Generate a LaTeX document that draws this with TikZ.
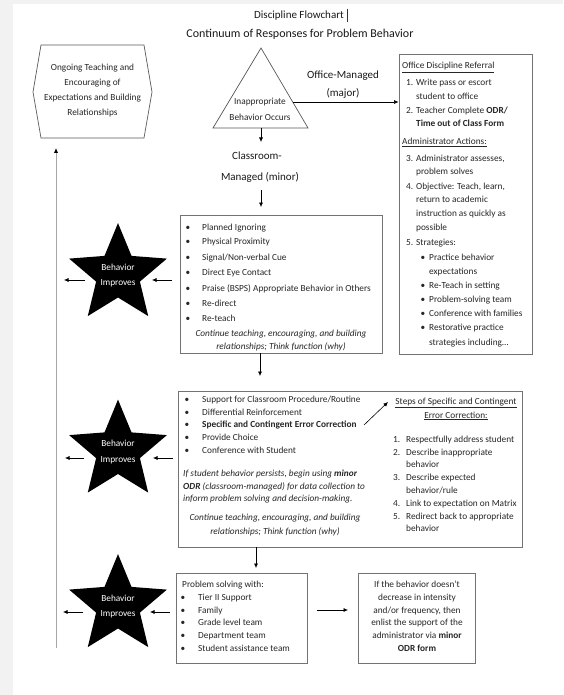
\documentclass[tikz,border=0pt]{standalone}
\usepackage{fontspec}
\setmainfont{Carlito}
\usetikzlibrary{arrows.meta,calc}
\newcommand\fsBody{\fontsize{9.3}{11}\selectfont}
\newcommand\drawstar[1]{\fill[black] ($(#1)+(-90:51.4)$) \foreach \k in {1,...,9}{ -- ($(#1)+({-90+36*\k}:{ifthenelse(isodd(\k),23,51.4)})$)} -- cycle;}
\begin{document}
\begin{tikzpicture}[x=1pt,y=-1pt,
  txt/.style={inner sep=0pt,anchor=base west,font=\fsBody,text=black!85},
  ctxt/.style={txt,anchor=base},
  bul/.style={inner sep=0pt,anchor=base,font=\fsBody,text=black!85},
  bigtxt/.style={inner sep=0pt,anchor=base,font=\fontsize{11}{13}\selectfont,text=black!90},
  boxline/.style={draw=black!55,line width=0.8pt,inner sep=0pt},
  shapeline/.style={draw=black!65,line width=0.7pt},
  arr/.style={-{Latex[length=4.5pt,width=4pt]},line width=0.6pt,draw=black},
  startxt/.style={inner sep=0pt,anchor=base,font=\fsBody,text=white},
]
\useasboundingbox (0,0) rectangle (563,695);
% page and shadow
\fill[black!5] (0,0) rectangle (563,695);
\fill[white] (13,4) rectangle (563,695);

% titles
\node[inner sep=0pt,anchor=base,font=\fontsize{11}{13}\selectfont,text=black!90] (title) at (299,19) {Discipline Flowchart};
\draw[black!80,line width=0.5pt] (347.5,9) -- (347.5,22);
\node[inner sep=0pt,anchor=base,font=\fontsize{12}{14}\selectfont,text=black!90] (subtitle) at (300,38) {Continuum of Responses for Problem Behavior};

% hexagon
\draw[shapeline] (41,45) -- (144,45) -- (152,92) -- (144,138) -- (41,138) -- (33,92) -- cycle;
\node[ctxt] (hx1) at (92.5,70.5) {Ongoing Teaching and};
\node[ctxt] (hx2) at (92.5,85.5) {Encouraging of};
\node[ctxt] (hx3) at (92.5,101) {Expectations and Building};
\node[ctxt] (hx4) at (92.5,115.5) {Relationships};
\coordinate (hexIn) at (56,148);
\coordinate (vbot) at (56,648);
\draw[line width=1pt,draw=black!35,-{Latex[length=5pt,width=4.5pt,color=black]}] (vbot) -- (hexIn);

% triangle
\draw[shapeline] (261,48) -- (308,128) -- (213,128) -- cycle;
\node[ctxt] (tri1) at (260,105) {Inappropriate};
\node[ctxt] (tri2) at (260,121) {Behavior Occurs};
\coordinate (triB) at (261,128);
\coordinate (triR) at (293,102);

% office managed
\node[bigtxt] (om1) at (343,78.5) {Office-Managed};
\node[bigtxt] (om2) at (343,96.5) {(major)};
\node[boxline,minimum width=133pt,minimum height=300pt] (odr) at (465.5,204) {};
\coordinate (odrIn) at (odr.west |- triR);
\draw[arr] (triR) -- (odrIn);

\node[txt] (odrH) at (402,69) {\underline{Office Discipline Referral}};
\node[txt] (o1n) at (406,86) {1.};
\node[txt] (o1a) at (416,86) {Write pass or escort};
\node[txt] (o1b) at (416,100) {student to office};
\node[txt] (o2n) at (406,113.5) {2.};
\node[txt] (o2a) at (416,113.5) {Teacher Complete \textbf{ODR/}};
\node[txt] (o2b) at (416,127) {\textbf{Time out of Class Form}};
\node[txt] (odrH2) at (402,145) {\underline{Administrator Actions:}};
\node[txt] (o3n) at (406,161) {3.};
\node[txt] (o3a) at (416,161) {Administrator assesses,};
\node[txt] (o3b) at (416,174.5) {problem solves};
\node[txt] (o4n) at (406,189) {4.};
\node[txt] (o4a) at (416,189) {Objective: Teach, learn,};
\node[txt] (o4b) at (416,202.5) {return to academic};
\node[txt] (o4c) at (416,216) {instruction as quickly as};
\node[txt] (o4d) at (416,230.5) {possible};
\node[txt] (o5n) at (406,245.5) {5.};
\node[txt] (o5a) at (416,245.5) {Strategies:};
\foreach \yy/\ll [count=\i] in {260/Practice behavior, 288/Re-Teach in setting, 302/Problem-solving team, 316.5/Conference with families, 330.5/Restorative practice}{
  \node[bul] (ob\i) at (423,\yy) {\textbullet};
  \node[txt] (os\i) at (429,\yy) {\ll};
}
\node[txt] (os1b) at (429,274) {expectations};
\node[txt] (os5b) at (429,345) {strategies including…};

% classroom managed
\coordinate (cmTop) at (261,142);
\draw[arr] (triB) -- (cmTop);
\node[bigtxt] (cm1) at (257,160) {Classroom-};
\node[bigtxt] (cm2) at (260,180) {Managed (minor)};
\coordinate (cmOut) at (261,190);
\coordinate (b1In) at (261,207);
\draw[arr] (cmOut) -- (b1In);

% box 1
\node[boxline,minimum width=202pt,minimum height=138pt] (box1) at (281,284) {};
\foreach \yy/\ll [count=\i] in {230/Planned Ignoring, 244/Physical Proximity, 260/{Signal/Non-verbal Cue}, 275/Direct Eye Contact, 291/Praise (BSPS) Appropriate Behavior in Others, 306/Re-direct, 321/Re-teach}{
  \node[bul] (b1b\i) at (188,\yy) {\textbullet};
  \node[txt] (b1t\i) at (202,\yy) {\ll};
}
\node[ctxt] (b1i1) at (281,336) {\itshape Continue teaching, encouraging, and building};
\node[ctxt] (b1i2) at (281,349) {\itshape relationships; Think function (why)};

% box 2
\node[boxline,minimum width=344pt,minimum height=156pt] (box2) at (350,469) {};
\coordinate (b1Out) at (260,353);
\coordinate (b2In) at (260,376);
\draw[arr] (b1Out) -- (b2In);
\foreach \yy/\ll [count=\i] in {402/{Support for Classroom Procedure/Routine}, 415/Differential Reinforcement, 427/\textbf{Specific and Contingent Error Correction}, 440/Provide Choice, 453/Conference with Student}{
  \node[bul] (b2b\i) at (187,\yy) {\textbullet};
  \node[txt] (b2t\i) at (202,\yy) {\ll};
}
\node[txt] (b2p1) at (183,476) {\itshape If student behavior persists, begin using \textbf{minor}};
\node[txt] (b2p2) at (183,489) {\itshape \textbf{ODR} (classroom-managed) for data collection to};
\node[txt] (b2p3) at (183,501) {\itshape inform problem solving and decision-making.};
\node[ctxt] (b2i1) at (275,520) {\itshape Continue teaching, encouraging, and building};
\node[ctxt] (b2i2) at (275,534) {\itshape relationships; Think function (why)};

\coordinate (ecFrom) at (364,425);
\coordinate (ecTo) at (388,402);
\draw[arr] (ecFrom) -- (ecTo);
\node[ctxt] (st1) at (456,404.5) {\underline{Steps of Specific and Contingent}};
\node[ctxt] (st2) at (456,418) {\underline{Error Correction:}};
\foreach \yy/\nn/\ll [count=\i] in {442/1./Respectfully address student, 455/2./Describe inappropriate, 480/3./Describe expected, 506/4./Link to expectation on Matrix, 519/5./Redirect back to appropriate}{
  \node[txt] (sn\i) at (393,\yy) {\nn};
  \node[txt] (sl\i) at (406,\yy) {\ll};
}
\node[txt] (sl2b) at (406,467) {behavior};
\node[txt] (sl3b) at (406,493) {behavior/rule};
\node[txt] (sl5b) at (406,531) {behavior};

% box 3 and 4
\node[boxline,minimum width=131pt,minimum height=90pt] (box3) at (241.5,618) {};
\node[boxline,minimum width=117pt,minimum height=90pt] (box4) at (416.5,618) {};
\coordinate (b2Out) at (256,547);
\coordinate (b3In) at (256,568);
\draw[arr] (b2Out) -- (b3In);
\node[txt] (b3h) at (182,587) {Problem solving with:};
\foreach \yy/\ll [count=\i] in {600/Tier II Support, 613/Family, 625/Grade level team, 638/Department team, 651/Student assistance team}{
  \node[bul] (b3b\i) at (183,\yy) {\textbullet};
  \node[txt] (b3t\i) at (198,\yy) {\ll};
}
\coordinate (b3Out) at (317,610);
\coordinate (b4In) at (348,610);
\draw[arr] (b3Out) -- (b4In);
\node[ctxt] (b4l1) at (417,587) {If the behavior doesn’t};
\node[ctxt] (b4l2) at (417,600) {decrease in intensity};
\node[ctxt] (b4l3) at (417,613) {and/or frequency, then};
\node[ctxt] (b4l4) at (417,625) {enlist the support of the};
\node[ctxt] (b4l5) at (417,638) {administrator via \textbf{minor}};
\node[ctxt] (b4l6) at (417,651) {\textbf{ODR form}};

% stars
\coordinate (s1) at (118,274.5);
\coordinate (s2) at (118,451);
\coordinate (s3) at (118,605.5);
\drawstar{s1}
\drawstar{s2}
\drawstar{s3}
\node[startxt] (s1a) at (118,270) {Behavior};
\node[startxt] (s1b) at (118,285.5) {Improves};
\node[startxt] (s2a) at (118,446.5) {Behavior};
\node[startxt] (s2b) at (118,462) {Improves};
\node[startxt] (s3a) at (118,601) {Behavior};
\node[startxt] (s3b) at (118,616.5) {Improves};

\foreach \s/\yy/\ra/\rb/\la/\lb in {1/280/172/152/85/64, 2/458/173/153/84/65, 3/612/170/150/83/63}{
  \coordinate (sr\s a) at (\ra,\yy);
  \coordinate (sr\s b) at (\rb,\yy);
  \coordinate (sl\s a) at (\la,\yy);
  \coordinate (sl\s b) at (\lb,\yy);
  \draw[arr] (sr\s a) -- (sr\s b);
  \draw[arr] (sl\s a) -- (sl\s b);
}
\end{tikzpicture}
\end{document}
